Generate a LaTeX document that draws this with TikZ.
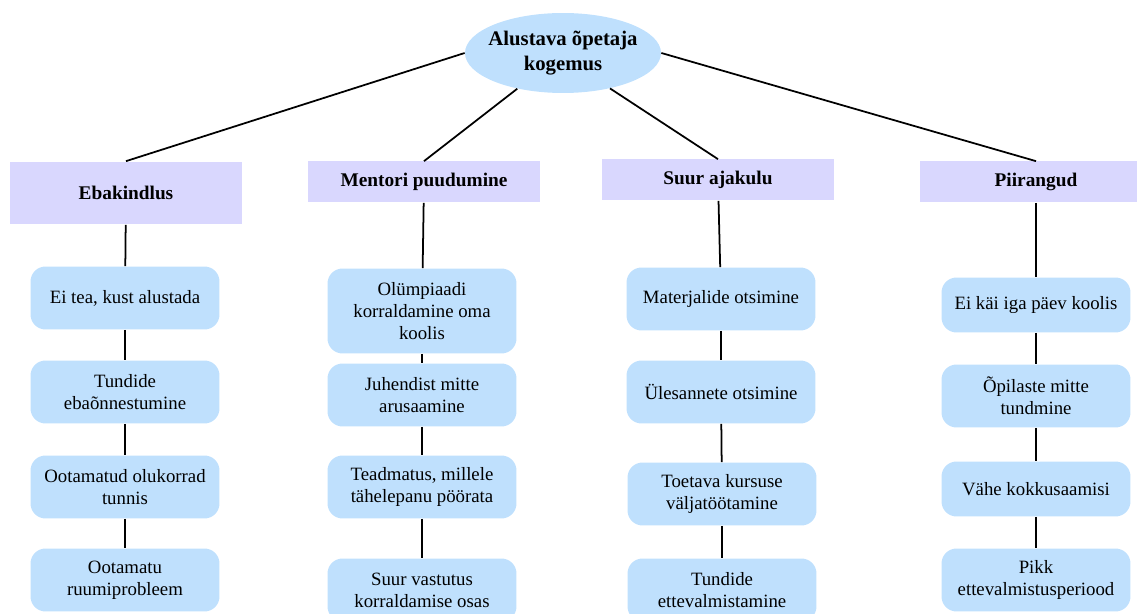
\documentclass[tikz,border=0pt]{standalone}
\usepackage{fontspec}
\setmainfont{Liberation Serif}
\usepackage{tikz}
\usetikzlibrary{positioning,shapes.geometric}
\definecolor{rootblue}{HTML}{BFE0FD}
\definecolor{catlilac}{HTML}{D9D7FE}
\definecolor{itemblue}{HTML}{BFE0FD}
\tikzstyle{root} = [ellipse, fill=rootblue, minimum width=3.8cm, minimum height=1.6cm, align=center, inner xsep=-3pt, inner ysep=0pt, font=\fontsize{11.8}{14.2}\selectfont\bfseries]
\tikzstyle{category} = [rectangle, fill=catlilac, minimum width=4.66cm, minimum height=0.82cm, align=center, font=\fontsize{11}{13}\selectfont\bfseries]
\tikzstyle{item} = [rectangle, rounded corners=0.3cm, fill=itemblue, minimum width=3.78cm, minimum height=1.26cm, align=center, font=\fontsize{10.7}{12.5}\selectfont]
\tikzstyle{link} = [line width=1pt, black]

\begin{document}
\begin{tikzpicture}[x=0.02cm, y=-0.02cm]
\useasboundingbox (0,0) rectangle (1137,614);
\node[root] (kogemus) at (563,53) {Alustava õpetaja\\kogemus};

\node[category, minimum height=1.26cm] (ebakindlus) at (126,193) {Ebakindlus};
\node[category] (mentor) at (424,182) {Mentori puudumine};
\node[category] (ajakulu) at (718,180) {Suur ajakulu};
\node[category] (piirang) at (1036,182) {Piirangud};

\node[item] (eb1) at (125,298) {Ei tea, kust alustada};
\node[item] (eb2) at (125,392) {Tundide\\ebaõnnestumine};
\node[item] (eb3) at (125,487) {Ootamatud olukorrad\\tunnis};
\node[item] (eb4) at (125,580) {Ootamatu\\ruumiprobleem};

\node[item, minimum height=1.7cm] (me1) at (422,311) {Olümpiaadi\\korraldamine oma\\koolis};
\node[item] (me2) at (422,395) {Juhendist mitte\\arusaamine};
\node[item] (me3) at (422,487) {Teadmatus, millele\\tähelepanu pöörata};
\node[item] (me4) at (422,590) {Suur vastutus\\korraldamise osas};

\node[item] (aj1) at (721,299) {Materjalide otsimine};
\node[item] (aj2) at (721,392) {Ülesannete otsimine};
\node[item] (aj3) at (722,494) {Toetava kursuse\\väljatöötamine};
\node[item] (aj4) at (722,590) {Tundide\\ettevalmistamine};

\node[item, minimum height=1.1cm] (pi1) at (1036,305) {Ei käi iga päev koolis};
\node[item] (pi2) at (1036,396) {Õpilaste mitte\\tundmine};
\node[item, minimum height=1.1cm] (pi3) at (1036,489) {Vähe kokkusaamisi};
\node[item] (pi4) at (1036,580) {Pikk\\ettevalmistusperiood};

\draw[link] (kogemus.west) -- (ebakindlus.north);
\draw[link] (kogemus.218) -- (mentor.north);
\draw[link] (kogemus.323) -- (ajakulu.north);
\draw[link] (kogemus.east) -- (piirang.north);

\draw[link] (ebakindlus) -- (eb1);
\draw[link] (eb1) -- (eb2);
\draw[link] (eb2) -- (eb3);
\draw[link] (eb3) -- (eb4);
\draw[link] (mentor) -- (me1);
\draw[link] (me1) -- (me2);
\draw[link] (me2) -- (me3);
\draw[link] (me3) -- (me4);
\draw[link] (ajakulu) -- (aj1);
\draw[link] (aj1) -- (aj2);
\draw[link] (aj2) -- (aj3);
\draw[link] (aj3) -- (aj4);
\draw[link] (piirang) -- (pi1);
\draw[link] (pi1) -- (pi2);
\draw[link] (pi2) -- (pi3);
\draw[link] (pi3) -- (pi4);
\end{tikzpicture}
\end{document}
